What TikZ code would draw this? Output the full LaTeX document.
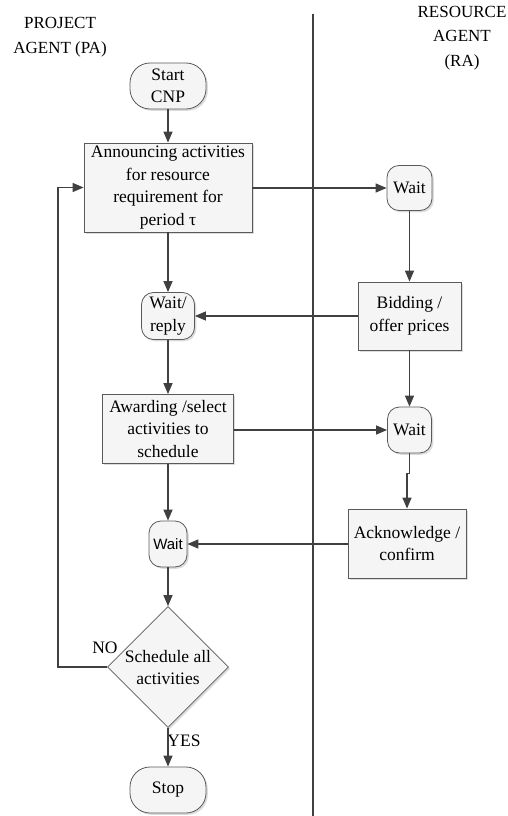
\documentclass[tikz,border=0pt]{standalone}
\usepackage{fontspec}
\setmainfont{Liberation Serif}
\newfontfamily\sansfam{Liberation Sans}
\usetikzlibrary{arrows.meta,shapes.geometric,shadows}
\definecolor{lc}{HTML}{404040}
\definecolor{bc}{HTML}{5A5A5A}
\begin{document}
\begin{tikzpicture}[x=1pt,y=-1pt,
  txt/.style={font=\fontsize{17.5}{22.5}\selectfont, align=center, inner sep=0pt},
  shad/.style={drop shadow={shadow xshift=1.8pt, shadow yshift=-1.8pt, fill=gray!60, opacity=.45}},
  procbox/.style={txt, draw=bc, line width=0.8pt, fill=gray!8, shad},
  termbox/.style={procbox, rounded corners=20pt},
  waitbox/.style={procbox, rounded corners=12pt},
  decbox/.style={diamond, draw=bc, line width=0.8pt, fill=gray!8, shad, inner sep=0pt, minimum width=121pt, minimum height=121pt},
  conn/.style={draw=lc, line width=1.3pt, -{Triangle[length=11pt,width=9pt]}},
]
\useasboundingbox (0,0) rectangle (508,816);

% lane titles and divider
\node[txt, font=\fontsize{17}{25}\selectfont] (pa) at (60,37) {PROJECT\\AGENT (PA)};
\node[txt, font=\fontsize{17}{24.5}\selectfont] (ra) at (462,38) {RESOURCE\\AGENT\\(RA)};
\coordinate (dtop) at (313,14);
\coordinate (dbot) at (313,816);
\draw[lc, line width=2pt] (dtop) -- (dbot);

% project agent lane
\node[termbox, minimum width=76pt, minimum height=46pt] (start) at (168,86) {Start\\CNP};
\node[procbox, minimum width=168pt, minimum height=89pt] (ann) at (168,187.5) {Announcing activities\\for resource\\requirement for\\period τ};
\node[waitbox, minimum width=53pt, minimum height=47pt] (wr) at (168,316) {Wait/\\reply};
\node[procbox, minimum width=131pt, minimum height=69pt] (aw) at (168,429) {Awarding /select\\activities to\\schedule};
\node[waitbox, minimum width=38pt, minimum height=46pt, font=\sansfam\fontsize{15}{18}\selectfont] (wpa) at (168,544) {Wait};
\node[decbox] (dec) at (168,667) {};
\node[txt] (dectxt) at (168,667.5) {Schedule all\\activities};
\node[termbox, minimum width=76pt, minimum height=46pt] (stop) at (168,790) {Stop};
\node[txt] (no) at (105,648) {NO};
\node[txt] (yes) at (184,741) {YES};

% resource agent lane
\node[waitbox, minimum width=45pt, minimum height=45pt] (w1) at (409.5,188) {Wait};
\node[procbox, minimum width=103pt, minimum height=68pt] (bid) at (409.5,316) {Bidding /\\offer prices};
\node[waitbox, minimum width=44pt, minimum height=46pt] (w2) at (409.5,430) {Wait};
\node[procbox, minimum width=118pt, minimum height=69pt] (ack) at (407,543.5) {Acknowledge /\\confirm};

% connectors
\draw[conn] (start) -- (ann);
\draw[conn] (ann.east |- w1.west) -- (w1.west);
\draw[conn] (w1) -- (bid);
\draw[conn] (bid.west |- wr.east) -- (wr.east);
\draw[conn] (ann.south -| wr.north) -- (wr.north);
\draw[conn] (wr) -- (aw);
\draw[conn] (aw.east |- w2.west) -- (w2.west);
\draw[conn] (bid) -- (w2);
\draw[conn] (w2.south) -- ++(0,20) -| (ack.north);
\draw[conn] (ack.west |- wpa.east) -- (wpa.east);
\draw[conn] (aw.south -| wpa.north) -- (wpa.north);
\draw[conn] (wpa) -- (dec.north);
\draw[conn] (dec.south) -- (stop.north);
\draw[conn] (dec.west) -- (58,667) |- (ann.west);
\end{tikzpicture}
\end{document}
